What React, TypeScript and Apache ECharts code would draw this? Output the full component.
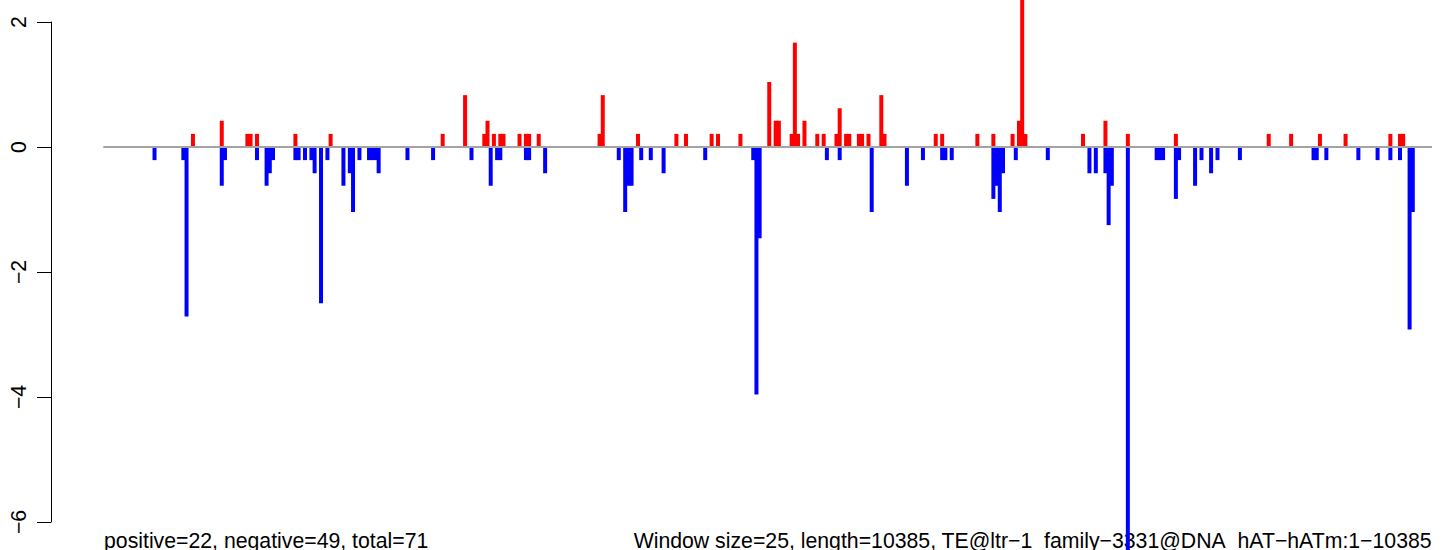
import React, { useEffect, useRef } from "react";
import * as echarts from "echarts";

// number of 25-bp windows along the 10385-bp element
const N_WINDOWS = 416;

// positive (red) bars: window index and value
const posIdx = [29, 38, 46, 47, 49, 61, 72, 107, 114, 120, 121, 123, 125, 126, 131, 133, 134, 137,
  156, 157, 168, 180, 183, 191, 193, 200, 209, 211, 212, 216, 217, 218, 220, 224, 226, 230, 231,
  233, 234, 237, 238, 240, 244, 245, 261, 263, 274, 279, 285, 287, 288, 289, 307, 314, 321, 336,
  365, 372, 381, 389, 403, 406, 407];
const posVal = [0.21, 0.42, 0.21, 0.21, 0.21, 0.21, 0.21, 0.21, 0.83, 0.21, 0.42, 0.21, 0.21, 0.21, 0.21, 0.21, 0.21, 0.21,
  0.21, 0.83, 0.21, 0.21, 0.21, 0.21, 0.21, 0.21, 1.04, 0.42, 0.42, 0.21, 1.67, 0.21, 0.42, 0.21, 0.21, 0.21, 0.62,
  0.21, 0.21, 0.21, 0.21, 0.21, 0.83, 0.21, 0.21, 0.21, 0.21, 0.21, 0.21, 0.42, 2.5, 0.21, 0.21, 0.42, 0.21, 0.21,
  0.21, 0.21, 0.21, 0.21, 0.21, 0.21, 0.21];

// negative (blue) bars: window index and value
const negIdx = [17, 26, 27, 38, 39, 49, 52, 53, 54, 61, 62, 64, 66, 67, 69, 71, 76, 78, 79, 81, 84, 85, 86, 87,
  96, 104, 116, 122, 124, 125, 133, 134, 139,
  162, 164, 165, 166, 169, 172, 176, 189, 204, 205, 206, 227, 231, 241, 252, 257, 263, 264, 266,
  279, 280, 281, 282, 286, 296, 309, 311, 314, 315, 316, 321, 330, 331, 332, 336, 337,
  342, 344, 347, 349, 356, 379, 380, 383, 393, 399, 403, 406, 409, 410];
const negVal = [-0.21, -0.21, -2.71, -0.62, -0.21, -0.21, -0.62, -0.42, -0.21, -0.21, -0.21, -0.21, -0.21, -0.42, -2.5, -0.21, -0.62, -0.42, -1.04, -0.21, -0.21, -0.21, -0.21, -0.42,
  -0.21, -0.21, -0.21, -0.62, -0.21, -0.21, -0.21, -0.21, -0.42,
  -0.21, -1.04, -0.62, -0.62, -0.21, -0.21, -0.42, -0.21, -0.21, -3.96, -1.46, -0.21, -0.21, -1.04, -0.62, -0.21, -0.21, -0.21, -0.21,
  -0.83, -0.62, -1.04, -0.42, -0.21, -0.21, -0.42, -0.42, -0.42, -1.25, -0.62, -6.67, -0.21, -0.21, -0.21, -0.83, -0.21,
  -0.62, -0.21, -0.42, -0.21, -0.21, -0.21, -0.21, -0.21, -0.21, -0.21, -0.21, -0.21, -2.92, -1.04];

const yMin = -6;
const yMax = 2;
const yStep = 2;

const leftNote = "positive=22, negative=49, total=71";
const rightNote = "Window size=25, length=10385, TE@ltr\u22121_family\u22123331@DNA_hAT\u2212hATm:1\u221210385";

const W = 1444;
const H = 550;
const GRID_LEFT = 51;
const GRID_TOP = 22;
const GRID_H = 500;
const FIRST_X = 103.3;
const PX_PER_WIN = 3.2017;
const FONT = "'Liberation Sans', Arial, Helvetica, sans-serif";
const FS = 21.25;

export default function App() {
  const ref = useRef<HTMLDivElement>(null);
  useEffect(() => {
    if (!ref.current) return;
    const chart = echarts.init(ref.current, undefined, { renderer: "svg", width: W, height: H });
    const xMin = 1 - (FIRST_X - GRID_LEFT) / PX_PER_WIN;
    const xMax = xMin + (W - GRID_LEFT) / PX_PER_WIN;
    chart.setOption({
      animation: false,
      backgroundColor: "#ffffff",
      grid: { left: GRID_LEFT, top: GRID_TOP, width: W - GRID_LEFT, height: GRID_H, containLabel: false },
      xAxis: {
        type: "value",
        min: xMin,
        max: xMax,
        show: false,
        splitLine: { show: false },
      },
      yAxis: {
        type: "value",
        min: yMin,
        max: yMax,
        interval: yStep,
        axisLine: { show: true, onZero: false, lineStyle: { color: "#000", width: 1 } },
        axisTick: { show: true, length: 14, lineStyle: { color: "#000", width: 1 } },
        splitLine: { show: false },
        axisLabel: {
          rotate: 90,
          margin: 22,
          fontSize: FS,
          fontFamily: FONT,
          color: "#000",
          formatter: (v: number) => (v < 0 ? "\u2212" + Math.abs(v) : String(v)),
        },
      },
      series: [
        {
          type: "bar",
          data: posIdx.map((x, i) => [x, posVal[i]]),
          barWidth: 4,
          barGap: "-100%",
          clip: false,
          itemStyle: { color: "#ff0000" },
          z: 2,
        },
        {
          type: "bar",
          data: negIdx.map((x, i) => [x, negVal[i]]),
          barWidth: 4,
          barGap: "-100%",
          clip: false,
          itemStyle: { color: "#0000ff" },
          z: 2,
        },
        {
          type: "line",
          data: [[1, 0], [N_WINDOWS, 0]],
          symbol: "none",
          lineStyle: { color: "#a3a3a3", width: 2 },
          z: 5,
        },
      ],
      graphic: [
        {
          type: "text",
          left: 104,
          top: 530,
          style: { text: leftNote, fontSize: FS, fontFamily: FONT, fill: "#000" },
        },
        {
          type: "text",
          right: W - 1432,
          top: 530,
          style: { text: rightNote, fontSize: FS, fontFamily: FONT, fill: "#000" },
        },
      ],
    });
    return () => chart.dispose();
  }, []);
  return <div ref={ref} style={{ position: "fixed", left: 0, top: 0, width: W, height: H }} />;
}
